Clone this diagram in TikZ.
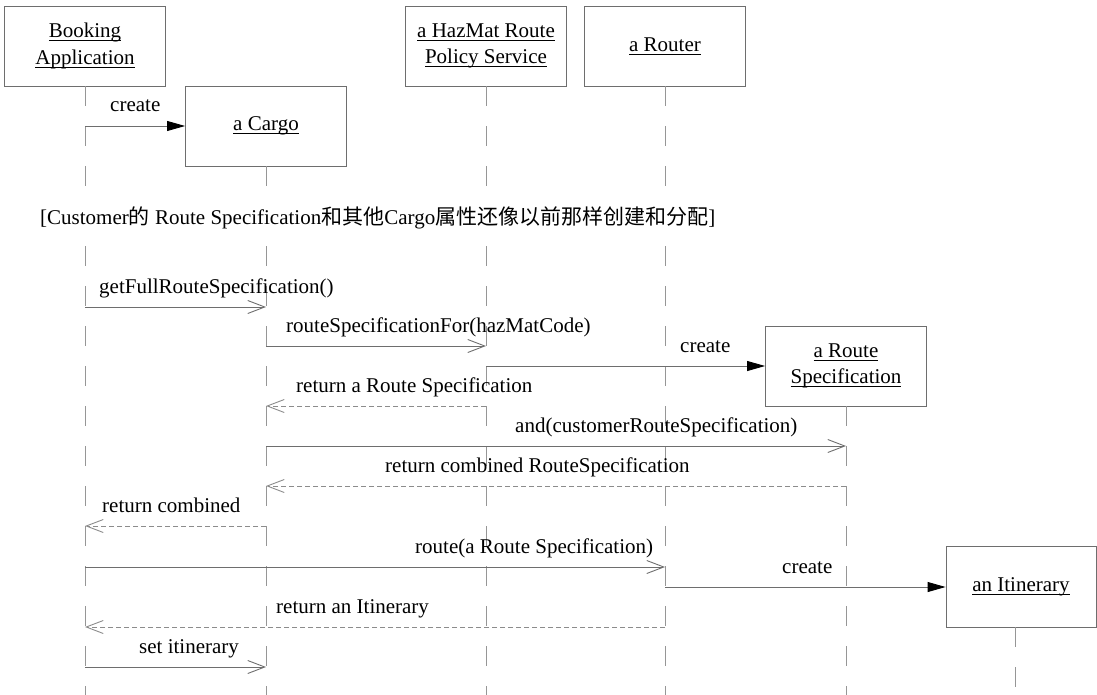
\documentclass[tikz,border=0pt]{standalone}
\usepackage{fontspec}
\setmainfont{Liberation Serif}
\newfontfamily\cjk{Noto Sans CJK SC}
\usetikzlibrary{arrows.meta}
\definecolor{lc}{RGB}{110,110,110}
\definecolor{llc}{RGB}{150,150,150}
\definecolor{rc}{RGB}{140,140,140}
\newcommand\myul[1]{\setbox0=\hbox{#1}\rlap{\rule[-3.5pt]{\wd0}{0.9pt}}\box0}
\begin{document}
\begin{tikzpicture}[x=1pt,y=-1pt,
  every node/.style={font=\fontsize{21}{26.5}\selectfont, inner sep=0pt},
  obj/.style={draw=lc, line width=0.9pt, minimum width=161pt, minimum height=80pt, align=center, fill=white},
  life/.style={draw=llc, line width=0.9pt, dash pattern=on 20pt off 20pt},
  call/.style={draw=lc, line width=0.9pt, -{Straight Barb[length=17pt,width=13pt]}},
  ret/.style={draw=rc, line width=0.9pt, dash pattern=on 5pt off 3pt, -{Straight Barb[length=17pt,width=13pt]}},
  newmsg/.style={draw=lc, line width=0.9pt, -{Triangle[length=18pt,width=10pt,black]}},
  lbl/.style={anchor=base west}]
\useasboundingbox (0,0) rectangle (1097,695);
% objects
\node[obj] (book) at (85,46) {\myul{Booking}\\\myul{Application}};
\node[obj] (cargo) at (266,126) {\myul{a Cargo}};
\node[obj] (hazmat) at (486,46) {\myul{a HazMat Route}\\\myul{Policy Service}};
\node[obj] (router) at (665,46) {\myul{a Router}};
\node[obj] (rspec) at (846,366) {\myul{a Route}\\\myul{Specification}};
\node[obj, minimum width=150pt, minimum height=81pt] (itin) at (1021,586.5) {\myul{an Itinerary}};
% rows
\coordinate (g1) at (0,196);
\coordinate (g2) at (0,246);
\coordinate (bot) at (0,695);
\coordinate (r2) at (0,307);
\coordinate (r3) at (0,346);
\coordinate (r4) at (0,366);
\coordinate (r5) at (0,406);
\coordinate (r6) at (0,446);
\coordinate (r7) at (0,486);
\coordinate (r8) at (0,526);
\coordinate (r9) at (0,567);
\coordinate (r10) at (0,587);
\coordinate (r11) at (0,627);
\coordinate (r12) at (0,667);
\coordinate (itl) at (1015,627);
% lifelines
\foreach \o in {book,cargo,hazmat,router}{
  \draw[life] (\o.south) -- (\o.south |- g1);
  \draw[life] (\o.south |- g2) -- (\o.south |- bot);
}
\draw[life] (rspec.south) -- (rspec.south |- bot);
\draw[life] (itl) -- (itl |- bot);
% condition
\node[anchor=base west] (cond) at (40,224) {[Customer{\cjk 的} Route Specification{\cjk 和其他}Cargo{\cjk 属性还像以前那样创建和分配}]};
% messages
\draw[newmsg] (book.south |- cargo.west) -- (cargo.west);
\node[lbl] (t1) at (110,112) {create};
\draw[call] (book.south |- r2) -- (cargo.south |- r2);
\node[lbl] (t2) at (99,293) {getFullRouteSpecification()};
\draw[call] (cargo.south |- r3) -- (hazmat.south |- r3);
\node[lbl] (t3) at (286,332) {routeSpecificationFor(hazMatCode)};
\draw[newmsg] (hazmat.south |- rspec.west) -- (rspec.west);
\node[lbl] (t4) at (680,352) {create};
\draw[ret] (hazmat.south |- r5) -- (cargo.south |- r5);
\node[lbl] (t5) at (296,392) {return a Route Specification};
\draw[call] (cargo.south |- r6) -- (rspec.south |- r6);
\node[lbl] (t6) at (515,432) {and(customerRouteSpecification)};
\draw[ret] (rspec.south |- r7) -- (cargo.south |- r7);
\node[lbl] (t7) at (385,472) {return combined RouteSpecification};
\draw[ret] (cargo.south |- r8) -- (book.south |- r8);
\node[lbl] (t8) at (102,512) {return combined};
\draw[call] (book.south |- r9) -- (router.south |- r9);
\node[lbl] (t9) at (415,553) {route(a Route Specification)};
\draw[newmsg] (router.south |- r10) -- (itin.west |- r10);
\node[lbl] (t10) at (782,573) {create};
\draw[ret] (router.south |- r11) -- (book.south |- r11);
\node[lbl] (t11) at (276,613) {return an Itinerary};
\draw[call] (book.south |- r12) -- (cargo.south |- r12);
\node[lbl] (t12) at (139,653) {set itinerary};
\end{tikzpicture}
\end{document}
